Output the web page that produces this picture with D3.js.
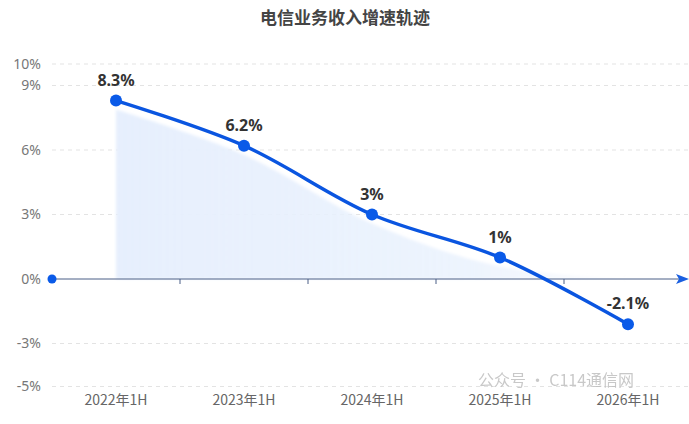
<!DOCTYPE html>
<html>
<head>
<meta charset="utf-8">
<script src="https://cdn.jsdelivr.net/npm/d3@7"></script>
<style>
  body { margin: 0; background: #fff; }
  svg { display: block; font-family: "Noto Sans CJK SC", "Noto Sans", sans-serif; }
</style>
</head>
<body>
<div id="chart"></div>
<script>
// 数据
const categories = ['2022年1H', '2023年1H', '2024年1H', '2025年1H', '2026年1H'];
const growth = [8.3, 6.2, 3, 1, -2.1];
const pointLabels = ['8.3%', '6.2%', '3%', '1%', '-2.1%'];
const yTicks = [10, 9, 6, 3, 0, -3, -5];

const W = 689, H = 424;
const svg = d3.select('#chart').append('svg')
    .attr('width', W)
    .attr('height', H);

// 标题
svg.append('text')
    .attr('x', 345)
    .attr('y', 24)
    .attr('text-anchor', 'middle')
    .attr('font-size', 17)
    .attr('font-weight', 'bold')
    .attr('fill', '#444')
    .text('电信业务收入增速轨迹');

// Scale
const x = d3.scaleBand()
    .domain(categories)
    .range([52, 692]);

const y = d3.scaleLinear()
    .domain([-5, 10])
    .range([386.5, 64]);

const cx = (d, i) => x(categories[i]) + x.bandwidth() / 2;

// 网格线 (虚线)
svg.append('g')
    .selectAll('line')
    .data(yTicks.filter(t => t !== 0))
    .enter()
    .append('line')
    .attr('x1', 52)
    .attr('x2', W)
    .attr('y1', d => y(d))
    .attr('y2', d => y(d))
    .attr('stroke', '#e3e3e3')
    .attr('stroke-dasharray', '4,4');

// Y轴标签
svg.append('g')
    .call(d3.axisLeft(y).tickValues(yTicks).tickFormat(d => d + '%').tickSize(0))
    .attr('transform', 'translate(44,0)')
    .call(g => g.select('.domain').remove())
    .call(g => g.selectAll('text')
        .attr('font-size', 14)
        .attr('fill', '#777')
        .attr('font-family', '"Noto Sans", sans-serif'));

// 面积填充 (模糊阴影)
const defs = svg.append('defs');
const grad = defs.append('linearGradient')
    .attr('id', 'area-grad')
    .attr('x1', '0').attr('x2', '1').attr('y1', '0').attr('y2', '0');
grad.append('stop').attr('offset', '0%').attr('stop-color', '#e6effd').attr('stop-opacity', 1);
grad.append('stop').attr('offset', '70%').attr('stop-color', '#e9f1fd').attr('stop-opacity', 0.8);
grad.append('stop').attr('offset', '100%').attr('stop-color', '#eef3fb').attr('stop-opacity', 0.2);
defs.append('filter')
    .attr('id', 'soft')
    .append('feGaussianBlur')
    .attr('stdDeviation', 1.5);

const area = d3.area()
    .x(cx)
    .y0(y(0))
    .y1(d => Math.min(y(d) + 9, y(0)))
    .curve(d3.curveCatmullRom.alpha(0.5));

svg.append('path')
    .datum(growth)
    .attr('d', area)
    .attr('fill', 'url(#area-grad)')
    .attr('filter', 'url(#soft)');

// X轴
const xAxis = svg.append('g')
    .attr('transform', `translate(0,${y(0)})`);

xAxis.append('line')
    .attr('x1', 52)
    .attr('x2', 682)
    .attr('stroke', '#4b5f86')
    .attr('stroke-width', 1);

xAxis.selectAll('.tick')
    .data(categories.slice(1))
    .enter()
    .append('line')
    .attr('x1', d => x(d))
    .attr('x2', d => x(d))
    .attr('y1', 0)
    .attr('y2', 5)
    .attr('stroke', '#4b5f86');

xAxis.append('path')
    .attr('d', 'M676,-5 L689,0 L676,5 L679,0 Z')
    .attr('fill', '#1a5fe0');

xAxis.append('circle')
    .attr('cx', 52)
    .attr('r', 4.5)
    .attr('fill', '#0a5ae8');

svg.append('g')
    .selectAll('text')
    .data(categories)
    .enter()
    .append('text')
    .attr('x', (d, i) => cx(d, i))
    .attr('y', 405)
    .attr('text-anchor', 'middle')
    .attr('font-size', 14)
    .attr('fill', '#666')
    .text(d => d);

// 折线
const line = d3.line()
    .x(cx)
    .y(d => y(d))
    .curve(d3.curveCatmullRom.alpha(0.5));

svg.append('path')
    .datum(growth)
    .attr('d', line)
    .attr('fill', 'none')
    .attr('stroke', '#0a55e0')
    .attr('stroke-width', 3.5)
    .attr('stroke-linecap', 'round');

svg.append('g')
    .selectAll('circle')
    .data(growth)
    .enter()
    .append('circle')
    .attr('cx', cx)
    .attr('cy', d => y(d))
    .attr('r', 6)
    .attr('fill', '#0a5ae8');

// 数据标签
svg.append('g')
    .selectAll('text')
    .data(growth)
    .enter()
    .append('text')
    .attr('x', cx)
    .attr('y', d => y(d) - 15)
    .attr('text-anchor', 'middle')
    .attr('font-size', 16)
    .attr('font-weight', 'bold')
    .attr('fill', '#333')
    .attr('font-family', '"Noto Sans", sans-serif')
    .text((d, i) => pointLabels[i]);

// 水印 (参考图中与轴标签重叠, 略上移)
svg.append('text')
    .attr('x', 478)
    .attr('y', 386)
    .attr('font-size', 16)
    .attr('fill', '#bbb')
    .attr('opacity', 0.8)
    .text('公众号 · C114通信网');
</script>
</body>
</html>
